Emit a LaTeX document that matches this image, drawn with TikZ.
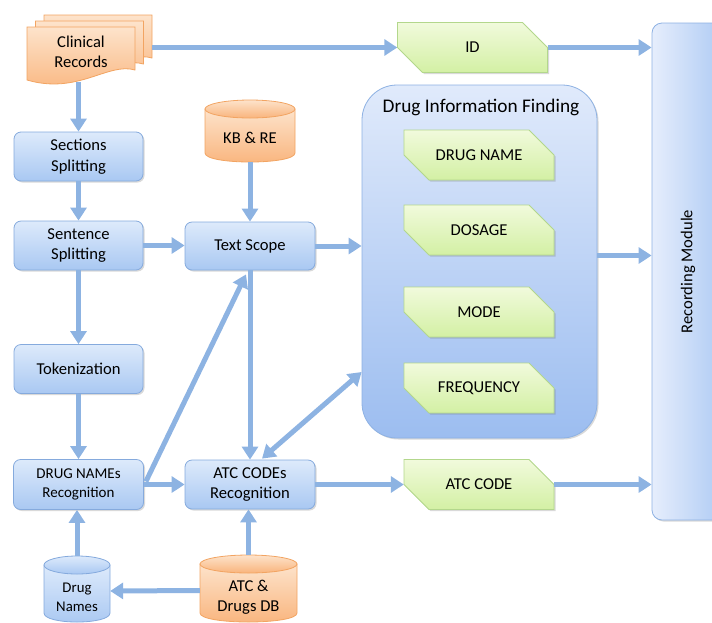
\documentclass[tikz,border=0pt]{standalone}
\usepackage{fontspec}
\setmainfont{Carlito}
\usetikzlibrary{arrows.meta,shadows,calc}
\definecolor{arr}{HTML}{8DB3E2}
\definecolor{btop}{HTML}{DDEAFB}
\definecolor{bbot}{HTML}{A9C8F2}
\definecolor{bbord}{HTML}{85AADD}
\definecolor{otop}{HTML}{FDE3CB}
\definecolor{obot}{HTML}{F9B47C}
\definecolor{obord}{HTML}{F2A462}
\definecolor{gtop}{HTML}{F1FADC}
\definecolor{gbot}{HTML}{D3F0A4}
\definecolor{gbord}{HTML}{B3D78C}
\definecolor{dtop}{HTML}{E0EAFB}
\definecolor{dbot}{HTML}{9CBDF0}
\definecolor{dbord}{HTML}{8DB1E3}
\definecolor{rleft}{HTML}{E6EEFC}
\definecolor{rright}{HTML}{A8C6F3}
\tikzset{
  shad/.style={drop shadow={shadow xshift=1.5pt,shadow yshift=-1.5pt,opacity=0.25,fill=black!60}},
  bluebox/.style={draw=bbord, line width=0.8pt, rounded corners=7pt, top color=btop, bottom color=bbot,
    minimum width=129pt, minimum height=49pt, align=center, inner sep=2pt,
    font=\fontsize{16.6}{20.5}\selectfont, shad},
  ofill/.style={draw=obord, line width=0.8pt, top color=otop, bottom color=obot},
  bfill/.style={draw=bbord, line width=0.8pt, top color=btop, bottom color=bbot},
  gfill/.style={draw=gbord, line width=0.8pt, top color=gtop, bottom color=gbot, shad},
  gtext/.style={minimum width=150pt, minimum height=50pt, inner sep=0pt, font=\fontsize{16.6}{20}\selectfont},
  ctext/.style={align=center, font=\fontsize{16.6}{20.5}\selectfont},
  arrowline/.style={draw=arr, line width=5pt, -{Triangle[width=16pt,length=13pt]}},
  darrowline/.style={draw=arr, line width=5pt, {Triangle[width=16pt,length=13pt]}-{Triangle[width=16pt,length=13pt]}},
}
\newcommand\gshp[4]{%
  \path[gfill] ({#2-75},{#3-25}) -- ({#2+50},{#3-25}) -- ({#2+75},{#3}) -- ({#2+75},{#3+25}) -- ({#2-50},{#3+25}) -- ({#2-75},{#3}) -- cycle;
  \node[gtext] (#1) at (#2,#3) {#4};}
% name, cx, cy, w, h, fillstyle
\newcommand\cylin[6]{%
  \path[#6] ({#2-#4/2},{#3-#5/2+9}) -- ({#2-#4/2},{#3+#5/2-9})
     .. controls ({#2-#4/2},{#3+#5/2+3}) and ({#2+#4/2},{#3+#5/2+3}) .. ({#2+#4/2},{#3+#5/2-9})
     -- ({#2+#4/2},{#3-#5/2+9}) -- cycle;
  \path[#6] (#2,{#3-#5/2+9}) ellipse [x radius={#4/2*1pt}, y radius=9pt];
  \node[minimum width=#4pt, minimum height=#5pt, inner sep=0pt] (#1) at (#2,#3) {};}
\begin{document}
\begin{tikzpicture}[x=1pt,y=-1pt]
\useasboundingbox (0,0) rectangle (712,622);

% Clinical records (stacked documents)
\foreach \d in {2,1,0}{
  \path[ofill] ({27+8.5*\d},{27-6*\d}) -- ({135+8.5*\d},{27-6*\d}) -- ({135+8.5*\d},{70-6*\d})
    .. controls ({108+8.5*\d},{62-6*\d}) and ({78+8.5*\d},{95-6*\d}) .. ({27+8.5*\d},{80-6*\d}) -- cycle;
}
\node[minimum width=108pt, minimum height=52pt, inner sep=0pt, align=center, font=\fontsize{16.6}{20.5}\selectfont] (cr) at (81,52) {Clinical\\Records};

% Recording module
\node[draw=dbord, line width=0.8pt, rounded corners=10pt, left color=rleft, right color=rright,
  minimum width=80pt, minimum height=497pt, inner sep=0pt, font=\fontsize{16.6}{20}\selectfont, shad] (rec) at (692,271.5)
  {\hspace*{-8pt}\rotatebox{90}{Recording Module}};

% Drug information finding
\node[draw=dbord, line width=0.8pt, rounded corners=35pt, top color=dtop, bottom color=dbot,
  minimum width=235pt, minimum height=353pt, shad] (dif) at (479.5,261.5) {};
\node[font=\fontsize{19.3}{23}\selectfont] (dift) at (481,107) {Drug Information Finding};

% green shapes
\gshp{id}{472.5}{47.5}{ID}
\gshp{dn}{479}{155}{DRUG NAME}
\gshp{dos}{479}{230}{DOSAGE}
\gshp{mode}{479}{312}{MODE}
\gshp{freq}{479}{388}{FREQUENCY}
\gshp{atcc}{479}{484.5}{ATC CODE}

% blue boxes
\node[bluebox] (sec) at (78.5,156.5) {Sections\\Splitting};
\node[bluebox] (sen) at (78.5,245.5) {Sentence\\Splitting};
\node[bluebox] (tok) at (78.5,369) {Tokenization};
\node[bluebox, minimum width=130pt, minimum height=50pt, font=\fontsize{15}{19}\selectfont] (dnr) at (78.5,484.5) {DRUG NAMEs\\Recognition};
\node[bluebox, minimum width=130pt, minimum height=48pt] (ts) at (250,246) {Text Scope};
\node[bluebox, minimum width=130pt, minimum height=49pt] (atc) at (250,484.5) {ATC CODEs\\Recognition};

% cylinders
\cylin{kb}{250}{131}{90}{62}{ofill}
\node[ctext] at (250,138) {KB \& RE};
\cylin{dbn}{77}{589}{66}{66}{bfill}
\node[ctext, font=\fontsize{14.8}{19}\selectfont] at (77,597) {Drug\\Names};
\cylin{atcdb}{248.5}{588.5}{97}{67}{ofill}
\node[ctext] at (248.5,597) {ATC \&\\Drugs DB};

% connectors
\draw[arrowline] ($(sec.north |- cr.south)+(0,4)$) -- (sec.north);
\draw[arrowline] ($(cr.east |- id.west)+(17,0)$) -- (id.west);
\draw[arrowline] (id.east) -- (id.east -| rec.west);
\draw[arrowline] (sec.south) -- (sen.north);
\draw[arrowline] (sen.south) -- (tok.north);
\draw[arrowline] (tok.south) -- (dnr.north);
\draw[arrowline] (sen.east -| sen.east) -- (sen.east -| ts.west);
\draw[arrowline] (kb.south) -- (ts.north);
\draw[arrowline] (ts.east) -- (ts.east -| dif.west);
\draw[arrowline] (ts.south) -- (atc.north);
\draw[arrowline] (dnr.east) -- (atc.west);
\draw[arrowline] ($(dnr.east)+(2,-3)$) -- ($(ts.south)+(-4,4)$);
\draw[darrowline] ($(atc.north)+(12,-1)$) -- ($(dif.west)+(0,110.5)$);
\draw[arrowline] (atc.east) -- (atcc.west);
\draw[arrowline] (atcc.east) -- (atcc.east -| rec.west);
\draw[arrowline] ($(dif.east)+(0,-6)$) -- ($(dif.east -| rec.west)+(0,-6)$);
\draw[arrowline] (dbn.north) -- (dbn.north |- dnr.south);
\draw[arrowline] ($(atcdb.west)+(0,2)$) -- ($(dbn.east)+(0,2)$);
\draw[arrowline] (atcdb.north) -- (atcdb.north |- atc.south);
\end{tikzpicture}
\end{document}
